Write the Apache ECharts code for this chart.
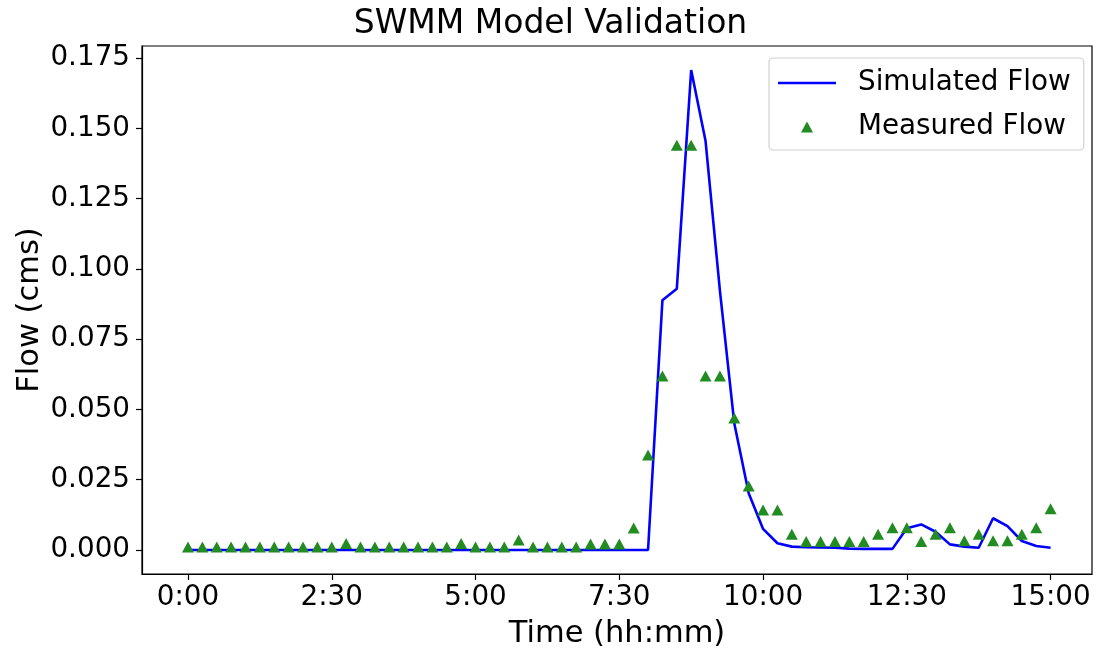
<!DOCTYPE html>
<html>
<head>
<meta charset="utf-8">
<script src="https://cdn.jsdelivr.net/npm/echarts@6/dist/echarts.min.js"></script>
<style>
html,body{margin:0;padding:0;background:#fff;}
#chart{width:1101px;height:655px;}
</style>
</head>
<body>
<div id="chart"></div>
<script>
// ---- data (15-minute time steps) ----
const times = ["0:00","0:15","0:30","0:45","1:00","1:15","1:30","1:45","2:00","2:15","2:30","2:45",
  "3:00","3:15","3:30","3:45","4:00","4:15","4:30","4:45","5:00","5:15","5:30","5:45",
  "6:00","6:15","6:30","6:45","7:00","7:15","7:30","7:45","8:00","8:15","8:30","8:45",
  "9:00","9:15","9:30","9:45","10:00","10:15","10:30","10:45","11:00","11:15","11:30","11:45",
  "12:00","12:15","12:30","12:45","13:00","13:15","13:30","13:45","14:00","14:15","14:30","14:45","15:00"];

const simulatedFlow = [0,0,0,0,0,0,0,0,0,0,0,0,
  0,0,0,0,0,0,0,0,0,0,0,0,
  0,0,0,0,0,0,0,0,0,0.0889,0.0930,0.1708,
  0.1455,0.0922,0.0450,0.0202,0.0075,0.0024,0.0012,0.0010,0.0009,0.0008,0.0005,0.0004,
  0.0004,0.0004,0.0077,0.0091,0.0065,0.0020,0.0012,0.0008,0.0113,0.0085,0.0032,0.0014,0.0008];

const measuredFlow = [0.0011,0.0011,0.0011,0.0011,0.0011,0.0011,0.0011,0.0011,0.0011,0.0011,0.0011,0.0023,
  0.0011,0.0011,0.0011,0.0011,0.0011,0.0011,0.0011,0.0023,0.0011,0.0011,0.0011,0.0036,
  0.0011,0.0011,0.0011,0.0011,0.0021,0.0021,0.0021,0.0078,0.0338,0.0619,0.1440,0.1440,
  0.0619,0.0619,0.0470,0.0228,0.0142,0.0142,0.0056,0.0030,0.0030,0.0030,0.0030,0.0030,
  0.0056,0.0079,0.0079,0.0030,0.0056,0.0079,0.0033,0.0056,0.0033,0.0033,0.0056,0.0079,0.0147];

const xTickValues = [0, 2.5, 5, 7.5, 10, 12.5, 15];
const xTickLabels = ["0:00","2:30","5:00","7:30","10:00","12:30","15:00"];
const yTickValues = [0, 0.025, 0.05, 0.075, 0.1, 0.125, 0.15, 0.175];

// ---- build ----
function toHours(s){ const p = s.split(":"); return +p[0] + (+p[1])/60; }
const hrs = times.map(toHours);
const simData = hrs.map((h,i)=>[h, simulatedFlow[i]]);
const measData = hrs.map((h,i)=>[h, measuredFlow[i]]);

const FONT = "DejaVu Sans";
const chart = echarts.init(document.getElementById('chart'), null, {renderer:'canvas'});
chart.setOption({
  animation: false,
  backgroundColor: '#ffffff',
  title: {
    text: 'SWMM Model Validation',
    left: 'center', top: 8, padding: 0,
    textStyle: {fontFamily: FONT, fontSize: 33, fontWeight: 'normal', color: '#000'}
  },
  grid: {
    left: 142, right: 9, top: 46, bottom: 80,
    show: true, borderColor: '#000', borderWidth: 1.2, backgroundColor: 'transparent',
    containLabel: false
  },
  legend: {
    orient: 'vertical',
    left: 769, top: 58,
    padding: [10, 13, 8, 9],
    itemGap: 14,
    itemWidth: 58, itemHeight: 11,
    symbolKeepAspect: true,
    backgroundColor: '#fff',
    borderColor: '#d0d0d0', borderWidth: 1.2, borderRadius: 4,
    textStyle: {fontFamily: FONT, fontSize: 27.8, color: '#000', lineHeight: 30, padding: [0,0,0,17]},
    data: [
      {name: 'Simulated Flow', icon: 'path://M0,0 H58 V2.6 H0 Z', itemStyle: {color: '#0000ff'}},
      {name: 'Measured Flow', icon: 'path://M6,0 L12,11 L0,11 Z', itemStyle: {color: '#228b22'}}
    ]
  },
  xAxis: {
    type: 'value',
    min: -0.8, max: 15.72,
    name: 'Time (hh:mm)',
    nameLocation: 'middle', nameGap: 45, nameMoveOverlap: false,
    nameTextStyle: {fontFamily: FONT, fontSize: 30.5, color: '#000'},
    axisLine: {show: true, onZero: false, lineStyle: {color: '#000', width: 1.2}},
    axisTick: {show: true, inside: false, length: 6, lineStyle: {color: '#000', width: 1.2}, customValues: xTickValues},
    axisLabel: {
      customValues: xTickValues,
      margin: 10,
      fontFamily: FONT, fontSize: 27.8, color: '#000',
      formatter: function(v){ const i = xTickValues.indexOf(v); return i >= 0 ? xTickLabels[i] : ''; }
    },
    splitLine: {show: false}
  },
  yAxis: {
    type: 'value',
    min: -0.00854, max: 0.17934,
    name: 'Flow (cms)',
    nameLocation: 'middle', nameGap: 96, nameRotate: 90, nameMoveOverlap: false,
    nameTextStyle: {fontFamily: FONT, fontSize: 30.5, color: '#000'},
    axisLine: {show: true, onZero: false, lineStyle: {color: '#000', width: 1.2}},
    axisTick: {show: true, inside: false, length: 6, lineStyle: {color: '#000', width: 1.2}, customValues: yTickValues},
    axisLabel: {
      customValues: yTickValues,
      margin: 12,
      fontFamily: FONT, fontSize: 27.8, color: '#000',
      formatter: function(v){ return v.toFixed(3); }
    },
    splitLine: {show: false}
  },
  series: [
    {
      name: 'Simulated Flow', type: 'line', data: simData,
      showSymbol: false, symbol: 'none',
      lineStyle: {color: '#0000ff', width: 2.6},
      itemStyle: {color: '#0000ff'},
      z: 2
    },
    {
      name: 'Measured Flow', type: 'scatter', data: measData,
      symbol: 'triangle', symbolSize: [12, 11],
      itemStyle: {color: '#228b22', opacity: 1},
      z: 3
    }
  ]
});
</script>
</body>
</html>
